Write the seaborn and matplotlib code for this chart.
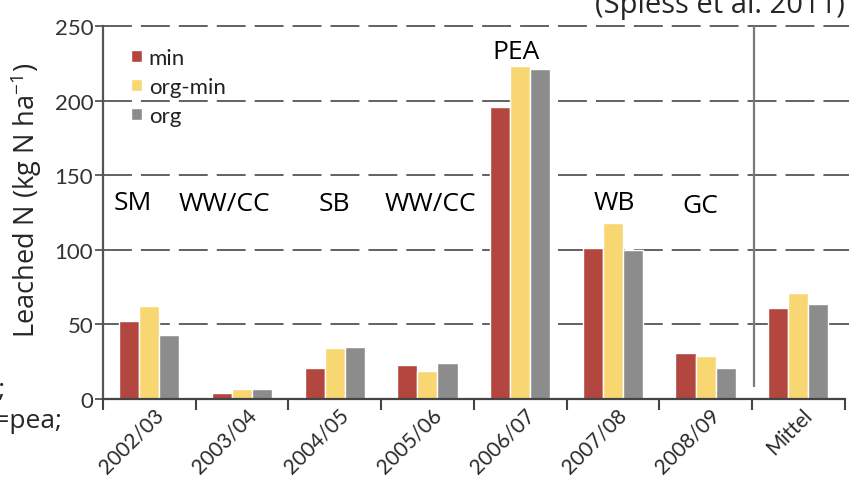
import numpy as np
import pandas as pd
import matplotlib
matplotlib.use("Agg")
import matplotlib.pyplot as plt
import matplotlib.transforms as mtransforms
import seaborn as sns

periods = ["2002/03", "2003/04", "2004/05", "2005/06", "2006/07", "2007/08", "2008/09", "Mittel"]
systems = ["min", "org-min", "org"]
min_vals = [52, 4, 21, 23, 196, 101, 31, 61]
orgmin_vals = [62, 7, 34, 19, 223, 118, 29, 71]
org_vals = [43, 7, 35, 24, 221, 100, 21, 64]
crops = ["SM", "WW/CC", "SB", "WW/CC", "PEA", "WB", "GC"]
yticks = [0, 50, 100, 150, 200, 250]

colors = ["#b3463f", "#f8d672", "#8c8c8c"]

df = pd.DataFrame({
    "period": periods * 3,
    "system": np.repeat(systems, len(periods)),
    "N": min_vals + orgmin_vals + org_vals,
})

sns.set_style("white")
plt.rcParams["font.family"] = ["Open Sans", "DejaVu Sans"]
plt.rcParams["mathtext.fontset"] = "custom"
plt.rcParams["mathtext.rm"] = "Open Sans"
plt.rcParams["mathtext.default"] = "rm"

W, H = 849, 481
fig = plt.figure(figsize=(W / 100, H / 100), dpi=100)
# axes from x=103 px to right edge, y=27..400 px
ax = fig.add_axes([103 / W, 1 - 400 / H, (W - 103) / W, 373 / H])

sns.barplot(data=df, x="period", y="N", hue="system", order=periods, hue_order=systems,
            palette=colors, width=0.65, gap=0, saturation=1, ax=ax, zorder=2)

cat_w = 92.7  # px per category
ax.set_xlim(-0.5, -0.5 + (W - 103) / cat_w)
ax.set_ylim(0, 250)

# dashed gridlines
ax.hlines(yticks[1:], -0.5, ax.get_xlim()[1], colors="#555555", lw=1.3,
          linestyles=(0, (16, 5)), zorder=0, clip_on=False)
# separator before the mean
ax.vlines(6.52, 8, 250, colors="#7a7a7a", lw=1.6, zorder=1)

for s in ["top", "right"]:
    ax.spines[s].set_visible(False)
ax.spines["left"].set_color("#555555")
ax.spines["left"].set_linewidth(1.6)
ax.spines["bottom"].set_color("#444444")
ax.spines["bottom"].set_linewidth(1.6)
ax.spines["bottom"].set_bounds(-0.5, 7.5)

ax.set_yticks(yticks)
ax.set_yticklabels([str(v) for v in yticks], family=["Lato", "DejaVu Sans"], fontsize=16, color="#333333")
ax.tick_params(axis="y", which="major", direction="out", length=6, width=1.3, color="#555555", pad=1, left=True)

ax.set_xticks(range(len(periods)))
ax.set_xticklabels(periods, family=["Lato", "DejaVu Sans"], fontsize=15, color="#2a2a2a")
ax.set_xticks(np.arange(-0.5, len(periods), 1), minor=True)
ax.tick_params(axis="x", which="major", length=0, pad=4)
ax.tick_params(axis="x", which="minor", direction="out", length=8, width=1.5, color="#444444", bottom=True)
shift = mtransforms.ScaledTranslation(11 / 100, -7 / 100, fig.dpi_scale_trans)
for lab in ax.get_xticklabels():
    lab.set_rotation(45)
    lab.set_rotation_mode("anchor")
    lab.set_ha("right")
    lab.set_va("center")
    lab.set_transform(lab.get_transform() + shift)

ax.set_xlabel("")
ax.set_ylabel("Leached N (kg N ha$^{-1}$)", fontsize=19.5)
ax.yaxis.set_label_coords(-(103 - 44) / (W - 103), 200 / 373)

# crop labels
label_pos = [(-0.18, 132), (0.81, 131), (2.0, 131), (3.03, 131), (3.95, 233), (5.02, 132), (5.94, 130)]
for txt, (x, y) in zip(crops, label_pos):
    ax.text(x, y, txt, ha="center", va="center", fontsize=19, color="black")

handles, labels = ax.get_legend_handles_labels()
ax.legend(handles, labels, loc="upper left", bbox_to_anchor=(131 / W, 1 - 49 / H),
          bbox_transform=fig.transFigure, frameon=False,
          prop={"family": ["Lato", "DejaVu Sans"], "size": 16},
          handlelength=0.5, handleheight=0.5, handletextpad=0.3, labelspacing=0.4,
          borderpad=0, borderaxespad=0)
for t in ax.get_legend().get_texts():
    t.set_color("#222222")

fig.text(845 / W, 1 - 13 / H, "(Spiess et al. 2011)", ha="right", va="baseline", fontsize=21)
fig.text(6 / W, 1 - 397 / H, "CC;", ha="right", va="baseline", fontsize=19)
fig.text(62 / W, 1 - 428 / H, "PEA=pea;", ha="right", va="baseline", fontsize=19)

fig.savefig("out.png", dpi=100)
